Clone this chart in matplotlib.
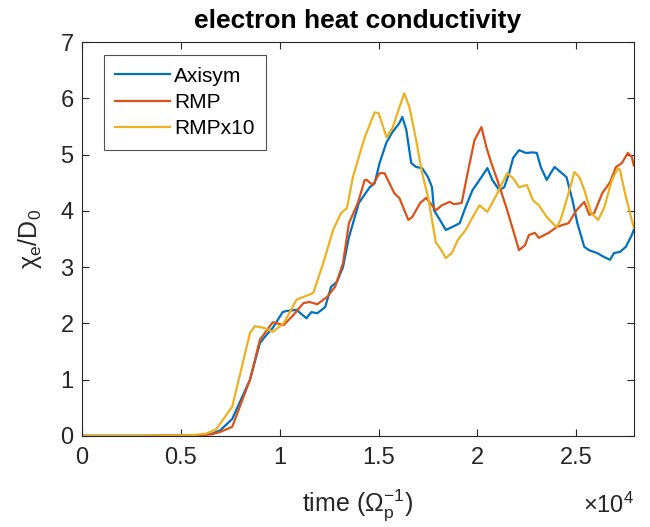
import numpy as np
import matplotlib; matplotlib.use("Agg")
import matplotlib.pyplot as plt

# time in units of 1e4 / Omega_p ; values chi_e / D0
t_axi = [0, 0.3, 0.6, 0.66, 0.7, 0.76, 0.85, 0.9, 0.925, 0.965, 1.015, 1.035, 1.085, 1.135,
         1.16, 1.19, 1.23, 1.26, 1.29, 1.32, 1.35, 1.4, 1.455, 1.48, 1.505, 1.54, 1.57,
         1.605, 1.62, 1.64, 1.665, 1.69, 1.72, 1.75, 1.77, 1.78, 1.81, 1.84, 1.87, 1.91,
         1.94, 1.975, 2.02, 2.05, 2.075, 2.11, 2.135, 2.16, 2.18, 2.21, 2.245, 2.28, 2.3,
         2.32, 2.35, 2.37, 2.39, 2.42, 2.45, 2.48, 2.505, 2.54, 2.565, 2.605, 2.64, 2.67,
         2.69, 2.72, 2.75, 2.78, 2.79]
v_axi = [0, 0, 0.01, 0.04, 0.1, 0.3, 1.0, 1.65, 1.76, 1.92, 2.2, 2.22, 2.24, 2.09,
         2.2, 2.18, 2.29, 2.65, 2.74, 3.0, 3.53, 4.14, 4.42, 4.49, 4.85, 5.22, 5.40,
         5.56, 5.67, 5.44, 4.85, 4.78, 4.76, 4.6, 4.42, 4.01, 3.84, 3.66, 3.71, 3.78,
         4.07, 4.37, 4.60, 4.76, 4.55, 4.37, 4.42, 4.67, 4.94, 5.08, 5.03, 5.04, 5.03,
         4.78, 4.55, 4.67, 4.78, 4.69, 4.6, 4.19, 3.78, 3.36, 3.30, 3.25, 3.18, 3.13,
         3.25, 3.27, 3.36, 3.57, 3.66]

t_rmp = [0, 0.3, 0.6, 0.66, 0.7, 0.76, 0.85, 0.9, 0.94, 0.965, 1.02, 1.07, 1.12, 1.15,
         1.19, 1.24, 1.28, 1.32, 1.35, 1.395, 1.43, 1.44, 1.47, 1.505, 1.53, 1.555, 1.58,
         1.605, 1.65, 1.67, 1.71, 1.74, 1.77, 1.79, 1.82, 1.86, 1.88, 1.92, 1.95, 1.985,
         2.02, 2.045, 2.07, 2.10, 2.145, 2.18, 2.21, 2.24, 2.26, 2.29, 2.31, 2.36, 2.40,
         2.43, 2.46, 2.50, 2.54, 2.565, 2.59, 2.63, 2.67, 2.70, 2.73, 2.76, 2.78, 2.79]
v_rmp = [0, 0, 0.01, 0.03, 0.07, 0.16, 1.0, 1.71, 1.9, 2.02, 1.97, 2.15, 2.36, 2.38,
         2.34, 2.47, 2.65, 3.07, 3.78, 4.14, 4.55, 4.55, 4.46, 4.67, 4.67, 4.49, 4.31,
         4.23, 3.84, 3.89, 4.14, 4.23, 4.10, 4.01, 4.10, 4.16, 4.12, 4.14, 4.67, 5.26,
         5.49, 5.13, 4.85, 4.55, 4.07, 3.66, 3.30, 3.39, 3.57, 3.61, 3.52, 3.61, 3.71,
         3.75, 3.78, 4.01, 4.16, 3.93, 3.96, 4.31, 4.51, 4.78, 4.85, 5.03, 4.96, 4.81]

t_x10 = [0, 0.3, 0.55, 0.63, 0.68, 0.76, 0.85, 0.874, 0.92, 0.965, 1.02, 1.085, 1.12, 1.17,
         1.22, 1.27, 1.31, 1.34, 1.37, 1.43, 1.48, 1.50, 1.54, 1.57, 1.605, 1.63, 1.656,
         1.69, 1.72, 1.75, 1.79, 1.81, 1.84, 1.87, 1.90, 1.94, 1.995, 2.01, 2.05, 2.10,
         2.15, 2.18, 2.21, 2.25, 2.28, 2.31, 2.35, 2.40, 2.42, 2.46, 2.49, 2.515, 2.54,
         2.575, 2.61, 2.64, 2.68, 2.71, 2.72, 2.75, 2.78, 2.79]
v_x10 = [0, 0, 0.01, 0.04, 0.12, 0.52, 1.83, 1.95, 1.92, 1.85, 2.0, 2.42, 2.47, 2.54,
         3.07, 3.66, 3.96, 4.05, 4.6, 5.31, 5.75, 5.74, 5.31, 5.47, 5.84, 6.09, 5.84,
         5.26, 4.67, 4.25, 3.43, 3.34, 3.16, 3.25, 3.48, 3.66, 4.01, 4.10, 3.98, 4.31,
         4.67, 4.58, 4.42, 4.46, 4.19, 4.10, 3.89, 3.71, 3.84, 4.31, 4.69, 4.60, 4.37,
         3.96, 3.84, 4.05, 4.55, 4.76, 4.73, 4.25, 3.84, 3.71]

labels = ["Axisym", "RMP", "RMPx10"]
colors = ["#0072BD", "#D95319", "#EDB120"]

plt.rcParams["font.family"] = ["Liberation Sans", "DejaVu Sans"]
plt.rcParams["mathtext.fontset"] = "custom"
plt.rcParams["mathtext.rm"] = "Liberation Sans"
plt.rcParams["mathtext.it"] = "Liberation Sans"
dark = "#262626"

fig = plt.figure(figsize=(6.5, 5.27), dpi=100)
ax = fig.add_axes([0.126, 0.173, 0.849, 0.747])
for t, v, lab, c in zip([t_axi, t_rmp, t_x10], [v_axi, v_rmp, v_x10], labels, colors):
    ax.plot(np.array(t) * 1e4, v, color=c, lw=1.6, label=lab)

ax.set_xlim(0, 2.79e4); ax.set_ylim(0, 7)
ax.set_xticks([0, 5000, 10000, 15000, 20000, 25000])
ax.set_xticklabels(["0", "0.5", "1", "1.5", "2", "2.5"])
ax.set_yticks(range(8))
ax.tick_params(direction="in", top=True, right=True, length=5, width=0.8,
               colors=dark, labelsize=17)
ax.tick_params(axis="x", pad=8)
ax.tick_params(axis="y", pad=6)
for s in ax.spines.values():
    s.set_color(dark); s.set_linewidth(0.8)

ax.set_title("electron heat conductivity", fontsize=19, fontweight="bold", color="black", pad=10)
ax.set_xlabel(r"time ($\mathregular{\Omega_p^{-1}}$)", fontsize=18, color=dark, labelpad=13)
ax.set_ylabel(r"$\mathregular{\chi_e/D_0}$", fontsize=18, color=dark, labelpad=12)
fig.text(0.975, 1 - 513 / 527, r"$\mathregular{\times10^4}$", ha="right", va="baseline",
         fontsize=17, color=dark)

leg = ax.legend(loc="upper left", bbox_to_anchor=(0.04, 0.967), borderaxespad=0, fontsize=15,
                handlelength=2.6, frameon=True, fancybox=False, edgecolor=dark, borderpad=0.55,
                labelspacing=0.35, handletextpad=0.2)
leg.get_frame().set_linewidth(0.8)

fig.savefig("out.png", dpi=100)
